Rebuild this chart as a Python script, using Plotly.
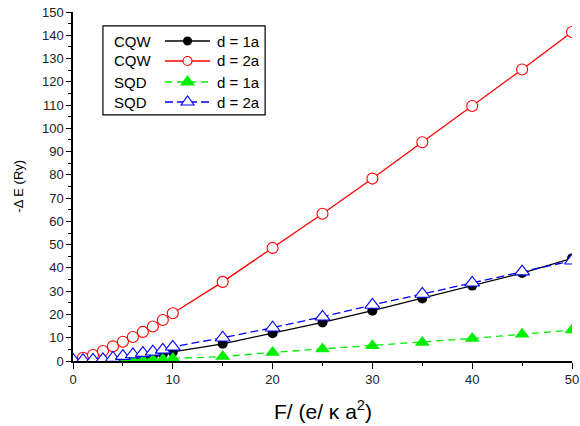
import plotly.graph_objects as go

# ---- data ----
x_cqw1 = [5, 6, 7, 8, 9, 10, 15, 20, 25, 30, 35, 40, 45, 50]
y_cqw1 = [0.3, 0.8, 1.4, 2.1, 2.9, 3.9, 7.4, 11.9, 16.6, 21.6, 26.9, 32.4, 37.8, 44.1]

x_cqw2 = [1, 2, 3, 4, 5, 6, 7, 8, 9, 10, 15, 20, 25, 30, 35, 40, 45, 50]
y_cqw2 = [1.4, 2.6, 4.3, 6.3, 8.3, 10.3, 12.5, 14.8, 17.6, 20.5, 34.0, 48.6, 63.3, 78.4, 94.0, 109.6, 125.3, 141.4]

x_sqd1 = [4, 5, 6, 7, 8, 9, 10, 15, 20, 25, 30, 35, 40, 45, 50]
y_sqd1 = [0.1, 0.2, 0.3, 0.45, 0.6, 0.8, 1.1, 1.9, 3.7, 5.2, 6.6, 8.0, 9.7, 11.5, 13.3]

x_sqd2 = [0, 1, 2, 3, 4, 5, 6, 7, 8, 9, 10, 15, 20, 25, 30, 35, 40, 45, 50]
y_sqd2 = [0.5, 0.4, 0.5, 0.7, 1.3, 2.1, 2.8, 3.4, 4.0, 4.8, 6.1, 10.0, 14.3, 19.0, 24.1, 28.8, 33.6, 38.4, 43.1]

series_names = ["d = 1a", "d = 2a", "d = 1a", "d = 2a"]
group_labels = ["CQW", "CQW", "SQD", "SQD"]
x_title = "F/ (e/ κ a<sup>2</sup>)"
y_title = "-Δ E (Ry)"

FONT = "Arial, Liberation Sans, sans-serif"
BLACK, RED, GREEN, BLUE = "black", "#ff0000", "#00ee00", "#0000ff"

styles = [
    dict(color=BLACK, dash="solid", symbol="circle", size=10, fill=BLACK),
    dict(color=RED, dash="solid", symbol="circle", size=11, fill="white"),
    dict(color=GREEN, dash="7px,5px", symbol="triangle-up", size=13, fill=GREEN),
    dict(color=BLUE, dash="8px,4px", symbol="triangle-up", size=13, fill="white"),
]
xs = [x_cqw1, x_cqw2, x_sqd1, x_sqd2]
ys = [y_cqw1, y_cqw2, y_sqd1, y_sqd2]

fig = go.Figure()
for xv, yv, nm, st in zip(xs, ys, series_names, styles):
    filled = st["fill"] != "white"
    fig.add_trace(go.Scatter(
        x=xv, y=yv, name=nm, mode="lines+markers", showlegend=False,
        line=dict(color=st["color"], width=1.3, dash=st["dash"]),
        marker=dict(symbol=st["symbol"], size=st["size"], color=st["fill"],
                    line=dict(color=st["color"], width=0 if filled else 1.1))))

# ---- hand-built legend (decoration in paper coordinates) ----
rows_y = [0.9169, 0.8596, 0.7994, 0.7421]
line_x0, line_x1, mark_x, text_x, group_x = 0.1844, 0.2745, 0.2295, 0.2846, 0.0782
for lab, nm, yy, st in zip(group_labels, series_names, rows_y, styles):
    fig.add_annotation(x=group_x, y=yy, xref="paper", yref="paper", text=lab,
                       showarrow=False, xanchor="left", yanchor="middle",
                       font=dict(family=FONT, size=15, color="black"))
    fig.add_annotation(x=text_x, y=yy, xref="paper", yref="paper", text=nm,
                       showarrow=False, xanchor="left", yanchor="middle",
                       font=dict(family=FONT, size=15, color="black"))
    fig.add_shape(type="line", xref="paper", yref="paper", x0=line_x0, x1=line_x1, y0=yy, y1=yy,
                  line=dict(color=st["color"], width=1.3, dash=st["dash"]))
    if st["symbol"] == "circle":
        r = 4 if st["fill"] != "white" else 4.5
        fig.add_shape(type="circle", xref="paper", yref="paper",
                      xsizemode="pixel", ysizemode="pixel", xanchor=mark_x, yanchor=yy,
                      x0=-r, x1=r, y0=-r, y1=r, fillcolor=st["fill"],
                      line=dict(color=st["color"], width=1.1))
    else:
        fig.add_shape(type="path", xref="paper", yref="paper",
                      xsizemode="pixel", ysizemode="pixel", xanchor=mark_x, yanchor=yy,
                      path="M-6.5,-3 L6.5,-3 L0,6 Z", fillcolor=st["fill"],
                      line=dict(color=st["color"], width=1.1))
fig.add_shape(type="rect", xref="paper", yref="paper", x0=0.060, x1=0.385, y0=0.705, y1=0.960,
              line=dict(color="black", width=1.2), fillcolor="rgba(0,0,0,0)")

# axis titles as annotations for exact placement
fig.add_annotation(x=0.5, y=-0.140, xref="paper", yref="paper", text=x_title, showarrow=False,
                   xanchor="center", yanchor="middle",
                   font=dict(family=FONT, size=21, color="black"))
fig.add_annotation(x=-0.110, y=0.5, xref="paper", yref="paper", text=y_title, showarrow=False,
                   xanchor="center", yanchor="middle", textangle=-90,
                   font=dict(family=FONT, size=13, color="black"))

fig.update_layout(
    width=580, height=426,
    margin=dict(l=73, r=8, t=12, b=65),
    paper_bgcolor="white", plot_bgcolor="white",
    font=dict(family=FONT, size=13, color="#222"),
    showlegend=False,
)
fig.update_xaxes(
    range=[0, 50], dtick=10, tick0=0, showgrid=False, zeroline=False, automargin=False,
    showline=True, linecolor="black", linewidth=1.5, mirror=False, ticklabeloverflow="allow",
    ticks="outside", ticklen=6, tickwidth=1.3, tickcolor="black",
    minor=dict(dtick=5, ticks="outside", ticklen=3, tickwidth=1.3, tickcolor="black"),
    tickfont=dict(family=FONT, size=13, color="#222"),
)
fig.update_yaxes(
    range=[0, 150], dtick=10, tick0=0, showgrid=False, zeroline=False, automargin=False,
    showline=True, linecolor="black", linewidth=1.5, mirror=False, ticklabeloverflow="allow",
    ticks="outside", ticklen=5, tickwidth=1.3, tickcolor="black",
    minor=dict(dtick=5, ticks="outside", ticklen=3, tickwidth=1.3, tickcolor="black"),
    tickfont=dict(family=FONT, size=13, color="#222"),
)

# remove the browser's default 8px page margin so the 580x426 figure fills the window
fig.write_html("out.html",
               config={"displayModeBar": False},
               post_script="document.body.style.margin='0';document.body.style.overflow='hidden';")
